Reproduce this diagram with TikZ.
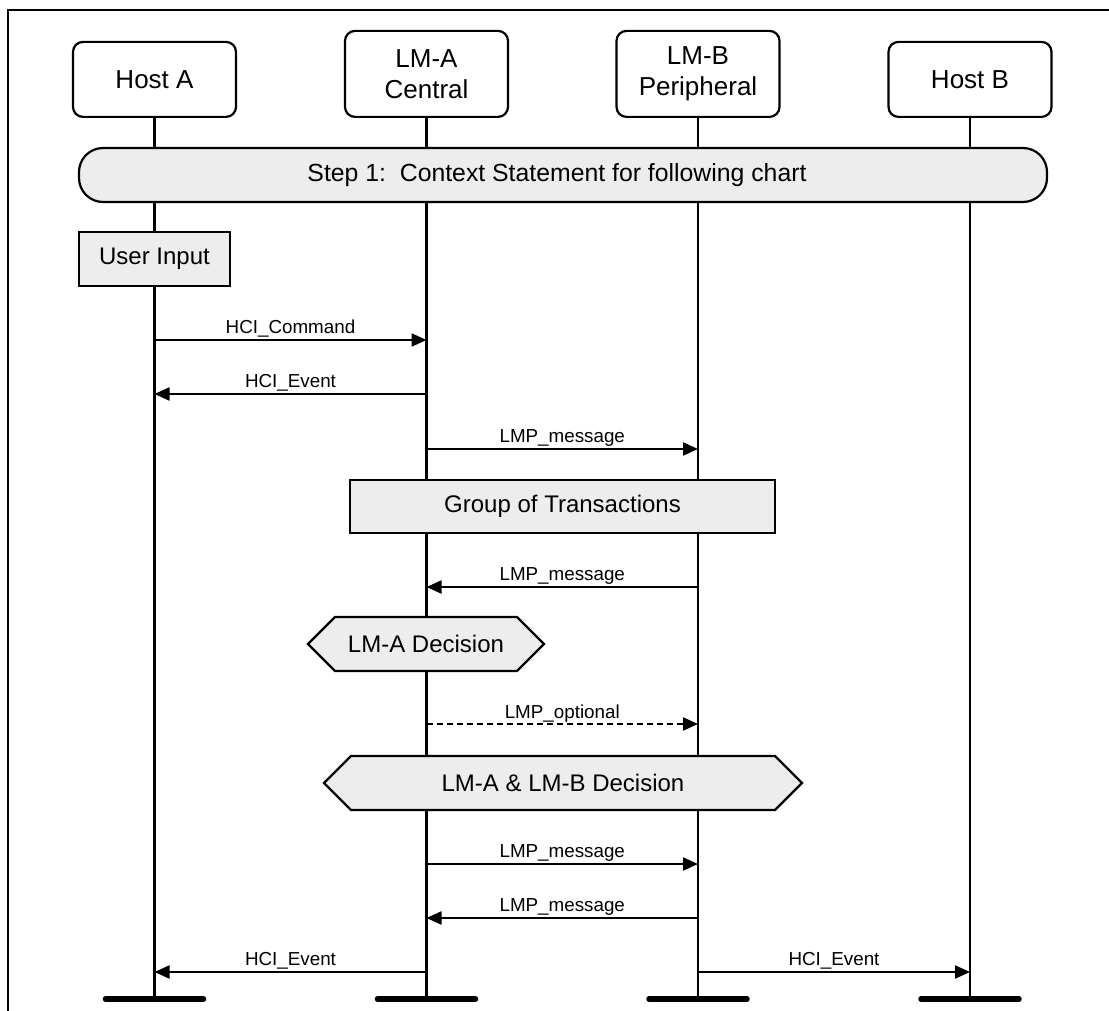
\documentclass[tikz,border=0pt]{standalone}
\usepackage{fontspec}
\setmainfont{Liberation Sans}
\usetikzlibrary{arrows.meta,shapes.symbols}
\definecolor{boxfill}{RGB}{237,237,237}
\tikzset{
  head/.style={draw, line width=2.2pt, rounded corners=10pt, fill=white, minimum width=163pt, align=center, inner sep=0pt, font=\fontsize{26}{31}\selectfont},
  life/.style={line width=2.2pt},
  endbar/.style={line width=5.5pt, line cap=round},
  grpbox/.style={draw, line width=2.2pt, fill=boxfill, inner sep=0pt, font=\fontsize{24}{28}\selectfont},
  stepbar/.style={grpbox, rounded corners=24pt, font=\fontsize{24.8}{28}\selectfont},
  hexbox/.style={grpbox, signal, signal to=west and east, signal pointer angle=90},
  msg/.style={line width=2.2pt, -{Triangle[length=15pt,width=13pt]}},
  lbl/.style={anchor=base, yshift=7pt, inner sep=0pt, font=\fontsize{18.8}{20}\selectfont},
}
\begin{document}
\begin{tikzpicture}[x=1pt,y=-1pt]
\useasboundingbox (0,0) rectangle (1109,1011);
% frame
\draw[line width=2.2pt] (1109,10) -- (8,10) -- (8,1011);
% headers
\node[head, minimum height=75pt, anchor=south] (hA) at (154.5,118) {Host A};
\node[head, minimum height=86pt, anchor=south] (lA) at (426.5,118) {LM-A\\Central};
\node[head, minimum height=86pt, anchor=south] (lB) at (698,118) {LM-B\\Peripheral};
\node[head, minimum height=75pt, anchor=south] (hB) at (970,118) {Host B};
% lifeline ends
\coordinate (eA) at (154.5,999);
\coordinate (eLA) at (426.5,999);
\coordinate (eLB) at (698,999);
\coordinate (eB) at (970,999);
\draw[life] (hA.south) -- (eA);
\draw[life] (lA.south) -- (eLA);
\draw[life] (lB.south) -- (eLB);
\draw[life] (hB.south) -- (eB);
\foreach \e in {eA,eLA,eLB,eB}
  \draw[endbar] ([xshift=-49pt]\e) -- ([xshift=49pt]\e);
% boxes
\node[stepbar, minimum width=968pt, minimum height=54pt] (step) at (563,175) {Step 1:\ \ Context Statement for following chart\hspace*{12pt}};
\node[grpbox, minimum width=151pt, minimum height=54pt] (ui) at (154.5,259) {User Input};
\node[grpbox, minimum width=425pt, minimum height=53pt] (grp) at (562.5,506.5) {Group of Transactions};
\node[hexbox, minimum width=236pt, minimum height=54pt] (dA) at (426,644) {LM-A Decision};
\node[hexbox, minimum width=478pt, minimum height=54pt] (dAB) at (563,783) {LM-A \& LM-B Decision};
% messages
\draw[msg] (hA |- 0,340) -- node[lbl]{HCI\_Command} (lA |- 0,340);
\draw[msg] (lA |- 0,394) -- node[lbl]{HCI\_Event} (hA |- 0,394);
\draw[msg] (lA |- 0,449) -- node[lbl]{LMP\_message} (lB |- 0,449);
\draw[msg] (lB |- 0,587) -- node[lbl]{LMP\_message} (lA |- 0,587);
\draw[msg, dash pattern=on 6pt off 4pt] (lA |- 0,724) -- node[lbl, yshift=-1pt]{LMP\_optional} (lB |- 0,724);
\draw[msg] (lA |- 0,864) -- node[lbl]{LMP\_message} (lB |- 0,864);
\draw[msg] (lB |- 0,918) -- node[lbl]{LMP\_message} (lA |- 0,918);
\draw[msg] (lA |- 0,972) -- node[lbl]{HCI\_Event} (hA |- 0,972);
\draw[msg] (lB |- 0,972) -- node[lbl]{HCI\_Event} (hB |- 0,972);
\end{tikzpicture}
\end{document}
